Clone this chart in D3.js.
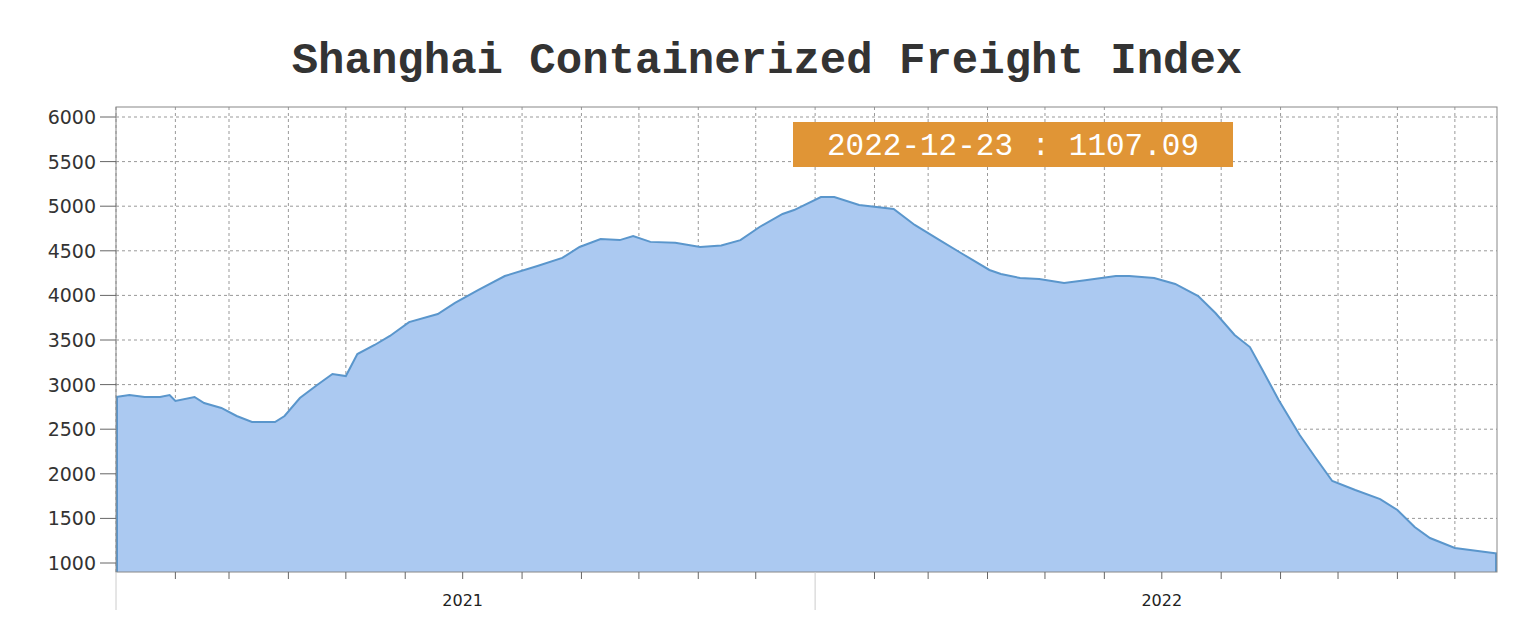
<!DOCTYPE html>
<html><head><meta charset="utf-8">
<script src="https://cdn.jsdelivr.net/npm/d3@7"></script>
<style>body{margin:0;background:#fff}</style>
</head><body>
<svg id="chart" width="1522" height="640"></svg>
<script>
// weekly-ish SCFI readings
const dates = ["2021-01-01","2021-01-08","2021-01-16","2021-01-24","2021-01-29","2021-02-01","2021-02-11","2021-02-16","2021-02-25","2021-03-05","2021-03-13","2021-03-25","2021-03-30","2021-04-07","2021-04-16","2021-04-24","2021-05-01","2021-05-07","2021-05-16","2021-05-24","2021-06-03","2021-06-18","2021-06-27","2021-07-09","2021-07-23","2021-08-09","2021-08-22","2021-08-31","2021-09-11","2021-09-21","2021-09-28","2021-10-07","2021-10-20","2021-11-02","2021-11-13","2021-11-23","2021-12-03","2021-12-15","2021-12-21","2022-01-04","2022-01-11","2022-01-24","2022-02-11","2022-02-22","2022-03-07","2022-03-19","2022-04-02","2022-04-08","2022-04-18","2022-04-28","2022-05-11","2022-05-22","2022-06-07","2022-06-14","2022-06-27","2022-07-08","2022-07-20","2022-07-29","2022-08-08","2022-08-16","2022-08-22","2022-08-31","2022-09-11","2022-09-19","2022-09-28","2022-10-10","2022-10-23","2022-11-01","2022-11-10","2022-11-18","2022-12-01","2022-12-23"];
const values = [2861,2883,2861,2861,2883,2816,2861,2794,2738,2648,2581,2581,2648,2850,2995,3119,3096,3343,3444,3545,3700,3791,3915,4060,4217,4330,4420,4543,4632,4620,4666,4600,4590,4543,4560,4620,4767,4913,4957,5103,5103,5013,4968,4790,4620,4464,4285,4240,4195,4185,4140,4170,4217,4217,4195,4128,3993,3803,3556,3421,3186,2827,2435,2188,1919,1818,1717,1594,1404,1280,1168,1107.09];
const yTicks = [1000,1500,2000,2500,3000,3500,4000,4500,5000,5500,6000];
const yearLabels = ["2021","2022"];
const title = "Shanghai Containerized Freight Index";
const tipText = "2022-12-23 : 1107.09";

const parse = d3.timeParse("%Y-%m-%d");
const data = dates.map((d, i) => ({ date: parse(d), value: values[i] }));

const pLeft = 116, pRight = 1497, pTop = 107, pBottom = 572;
const svg = d3.select("#chart");

const x = d3.scaleTime().domain(d3.extent(data, d => d.date)).range([pLeft, pRight]);
const y = d3.scaleLinear().domain([1000, 6000]).range([563, 117]);

svg.append("text").attr("x", 767).attr("y", 73).attr("text-anchor", "middle")
  .attr("font-family", "Liberation Mono, monospace").attr("font-weight", "bold")
  .attr("font-size", 44).attr("fill", "#333").text(title);

// grid
const months = d3.timeMonth.range(d3.timeMonth.ceil(x.domain()[0]), x.domain()[1]);
svg.append("g").selectAll("line").data(months).join("line")
  .attr("x1", d => x(d)).attr("x2", d => x(d)).attr("y1", pTop).attr("y2", pBottom)
  .attr("stroke", "#999").attr("stroke-dasharray", "3,3");
svg.append("g").selectAll("line").data(yTicks).join("line")
  .attr("x1", pLeft).attr("x2", pRight).attr("y1", d => y(d)).attr("y2", d => y(d))
  .attr("stroke", "#999").attr("stroke-dasharray", "3,3");

// area
const area = d3.area().x(d => x(d.date)).y0(pBottom).y1(d => y(d.value));
const line = d3.line().x(d => x(d.date)).y(d => y(d.value));
svg.append("path").datum(data).attr("d", area).attr("fill", "#abc9f1");
svg.append("path").datum(data).attr("d", line).attr("fill", "none")
  .attr("stroke", "#5a96cc").attr("stroke-width", 2);
svg.append("line").attr("x1", pLeft + 1).attr("x2", pLeft + 1)
  .attr("y1", y(values[0])).attr("y2", pBottom).attr("stroke", "#5a96cc").attr("stroke-width", 2);
svg.append("line").attr("x1", pRight - 1).attr("x2", pRight - 1)
  .attr("y1", y(values[values.length - 1])).attr("y2", pBottom).attr("stroke", "#5a96cc").attr("stroke-width", 2);

// frame
svg.append("rect").attr("x", pLeft).attr("y", pTop).attr("width", pRight - pLeft).attr("height", pBottom - pTop)
  .attr("fill", "none").attr("stroke", "#888");

// y axis
const ya = svg.append("g");
yTicks.forEach(v => {
  ya.append("line").attr("x1", pLeft - 16).attr("x2", pLeft).attr("y1", y(v)).attr("y2", y(v)).attr("stroke", "#666");
  ya.append("text").attr("x", 96).attr("y", y(v) + 7).attr("text-anchor", "end")
    .attr("font-family", "DejaVu Sans, sans-serif").attr("font-size", 19).attr("fill", "#333").text(v);
});

// x axis
const xa = svg.append("g");
months.forEach(m => {
  const jan = m.getMonth() === 0;
  xa.append("line").attr("x1", x(m)).attr("x2", x(m)).attr("y1", pBottom)
    .attr("y2", jan ? 610 : 579).attr("stroke", jan ? "#ccc" : "#666");
});
yearLabels.forEach(yr => {
  xa.append("text").attr("x", x(parse(yr + "-07-01"))).attr("y", 606).attr("text-anchor", "middle")
    .attr("font-family", "DejaVu Sans, sans-serif").attr("font-size", 16).attr("fill", "#222").text(yr);
});

// tooltip
svg.append("rect").attr("x", 793).attr("y", 122).attr("width", 440).attr("height", 45).attr("fill", "#e09536");
svg.append("text").attr("x", 1013).attr("y", 155).attr("text-anchor", "middle")
  .attr("font-family", "Liberation Mono, monospace").attr("font-size", 31).attr("fill", "#fff").text(tipText);
</script>
</body></html>
